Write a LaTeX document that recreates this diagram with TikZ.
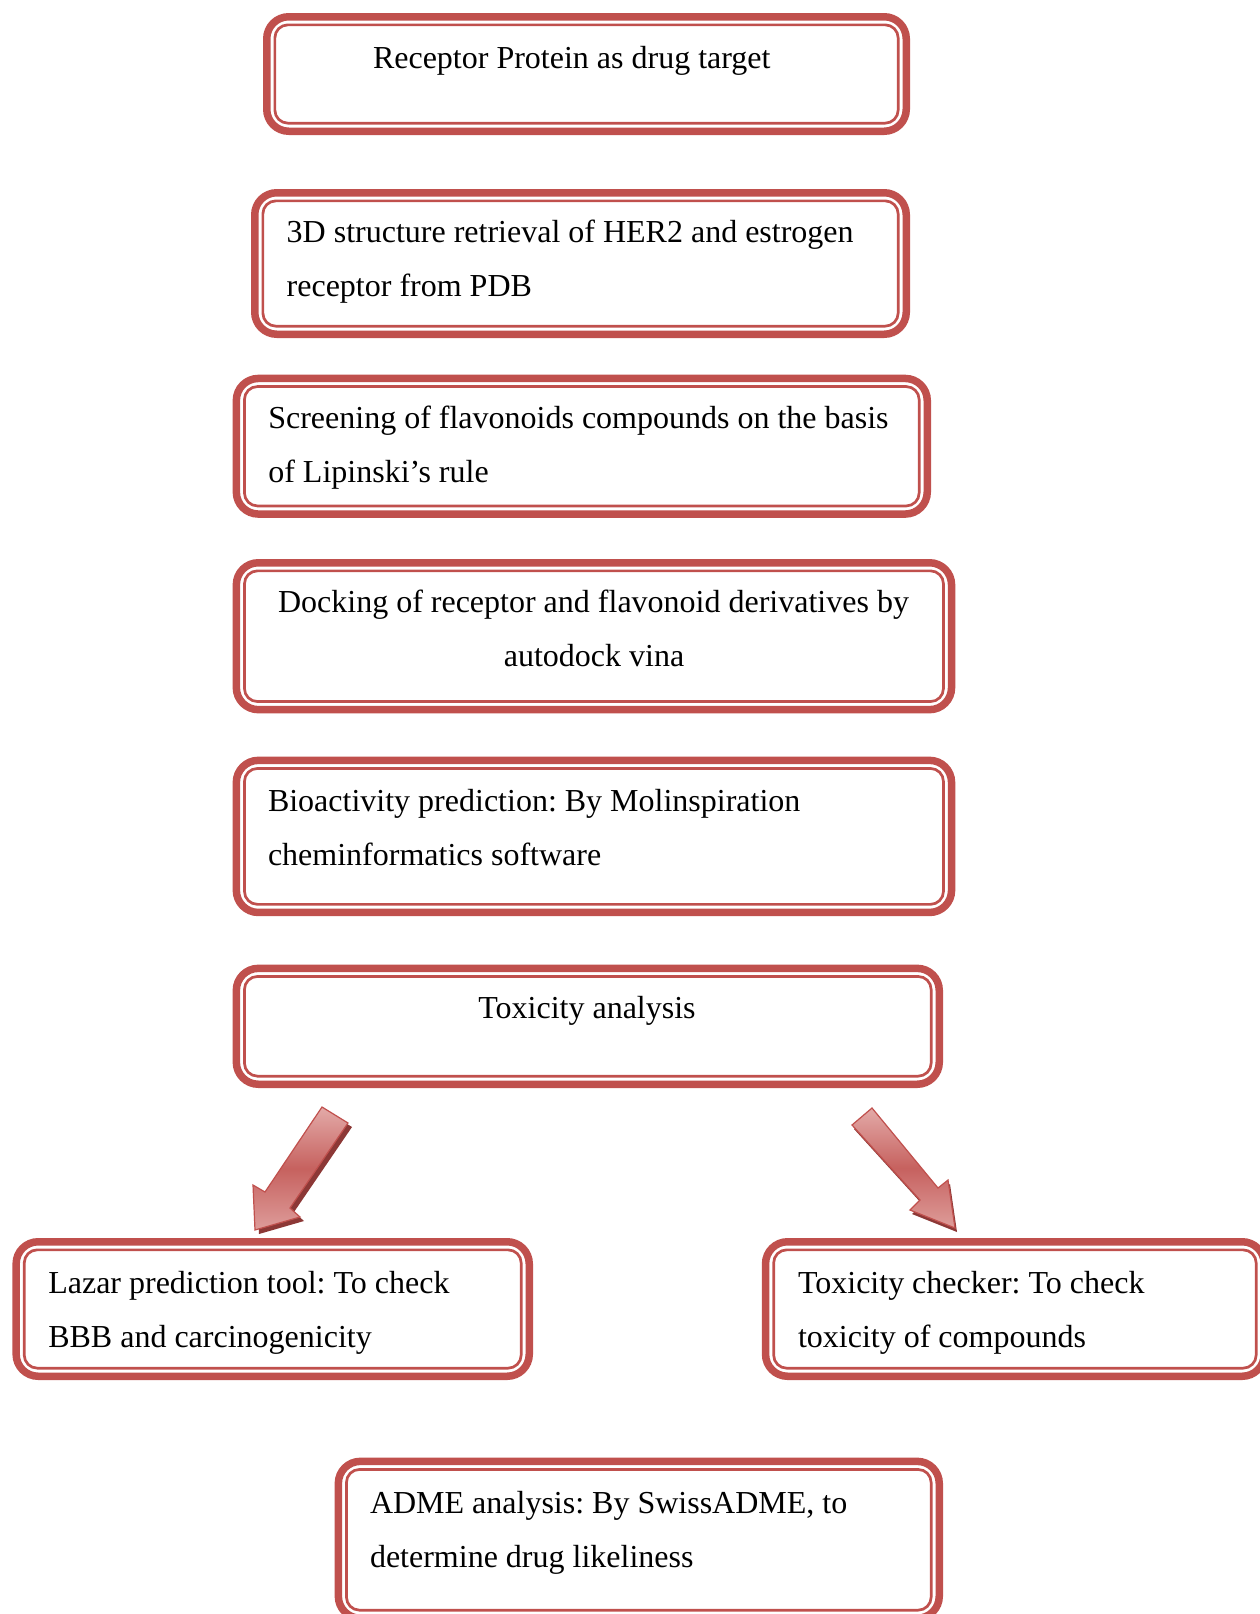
\documentclass[tikz,border=0pt]{standalone}
\usepackage{fontspec}
\setmainfont{Liberation Serif}
\usetikzlibrary{calc}
\definecolor{bred}{HTML}{C0504D}
\definecolor{lred}{HTML}{E3AAA8}
\definecolor{dred}{HTML}{8C3836}
\tikzset{
  outerbox/.style={draw=bred, line width=7.5pt, rounded corners=22pt, inner sep=0pt, outer sep=0pt},
  innerline/.style={draw=bred, line width=2.7pt, rounded corners=13pt},
  txt/.style={inner sep=0pt, outer sep=0pt, font=\fontsize{32}{54.5}\selectfont\frenchspacing},
  arrowbody/.style={draw=bred, line width=1.2pt, top color=lred, bottom color=lred!85!bred, middle color=bred!90!white, line join=miter},
  arrowshadow/.style={fill=dred},
}
\newcommand\dblbox[5]{%
  \node[outerbox, minimum width={(#4-#2-7.5)*1pt}, minimum height={(#5-#3-7.5)*1pt}] (#1) at ({(#2+#4)/2},{(#3+#5)/2}) {};
  \draw[innerline] ([shift={(8.1,8.1)}]#1.north west) rectangle ([shift={(-8.1,-8.1)}]#1.south east);
}
\begin{document}
\begin{tikzpicture}[x=1pt,y=-1pt]
\useasboundingbox (0,0) rectangle (1259,1614);
\dblbox{b1}{263}{13}{910}{135}
\dblbox{b2}{251}{189}{910}{338}
\dblbox{b3}{232.6}{374.7}{931}{517.8}
\dblbox{b4}{232.6}{559}{955.3}{713.4}
\dblbox{b5}{232.6}{756.6}{955.3}{916.2}
\dblbox{b6}{232.6}{964.6}{943}{1088}
\dblbox{b7}{12.4}{1238}{533}{1380}
\dblbox{b8}{761.8}{1238}{1268}{1380}
\dblbox{b9}{334.6}{1457.6}{943}{1622}

\node[txt, anchor=base west] (t1) at (373,68.3) {Receptor Protein as drug target};
\node[txt, anchor=base west] (t2a) at (286.7,242.3) {3D structure retrieval of HER2 and estrogen};
\node[txt, anchor=base west] (t2b) at (286.7,296.7) {receptor from PDB};
\node[txt, anchor=base west] (t3a) at (268.3,428.3) {Screening of flavonoids compounds on the basis};
\node[txt, anchor=base west] (t3b) at (268.3,482.8) {of Lipinski’s rule};
\node[txt, anchor=base] (t4a) at (593.5,612) {Docking of receptor and flavonoid derivatives by};
\node[txt, anchor=base] (t4b) at (594,666.5) {autodock vina};
\node[txt, anchor=base west] (t5a) at (268,811) {Bioactivity prediction: By Molinspiration};
\node[txt, anchor=base west] (t5b) at (268,865.5) {cheminformatics software};
\node[txt, anchor=base] (t6) at (587,1018) {Toxicity analysis};
\node[txt, anchor=base west] (t7a) at (48.3,1293) {Lazar prediction tool: To check};
\node[txt, anchor=base west] (t7b) at (48.3,1347.5) {BBB and carcinogenicity};
\node[txt, anchor=base west] (t8a) at (798,1293) {Toxicity checker: To check};
\node[txt, anchor=base west] (t8b) at (798,1347.5) {toxicity of compounds};
\node[txt, anchor=base west] (t9a) at (370,1513) {ADME analysis: By SwissADME, to};
\node[txt, anchor=base west] (t9b) at (370,1567.5) {determine drug likeliness};

% left block arrow
\fill[arrowshadow, shift={(4,4)}] (322,1107) -- (348,1123) -- (290,1208) -- (300,1217) -- (255,1230) -- (253,1185) -- (265,1192) -- cycle;
\path[arrowbody] (322,1107) -- (348,1123) -- (290,1208) -- (300,1217) -- (255,1230) -- (253,1185) -- (265,1192) -- cycle;
% right block arrow
\fill[arrowshadow, shift={(2,4)}] (852,1125) -- (872,1108) -- (938,1188) -- (948,1180) -- (955,1228) -- (910,1210) -- (920,1200) -- cycle;
\path[arrowbody] (852,1125) -- (872,1108) -- (938,1188) -- (948,1180) -- (955,1228) -- (910,1210) -- (920,1200) -- cycle;
\end{tikzpicture}
\end{document}
